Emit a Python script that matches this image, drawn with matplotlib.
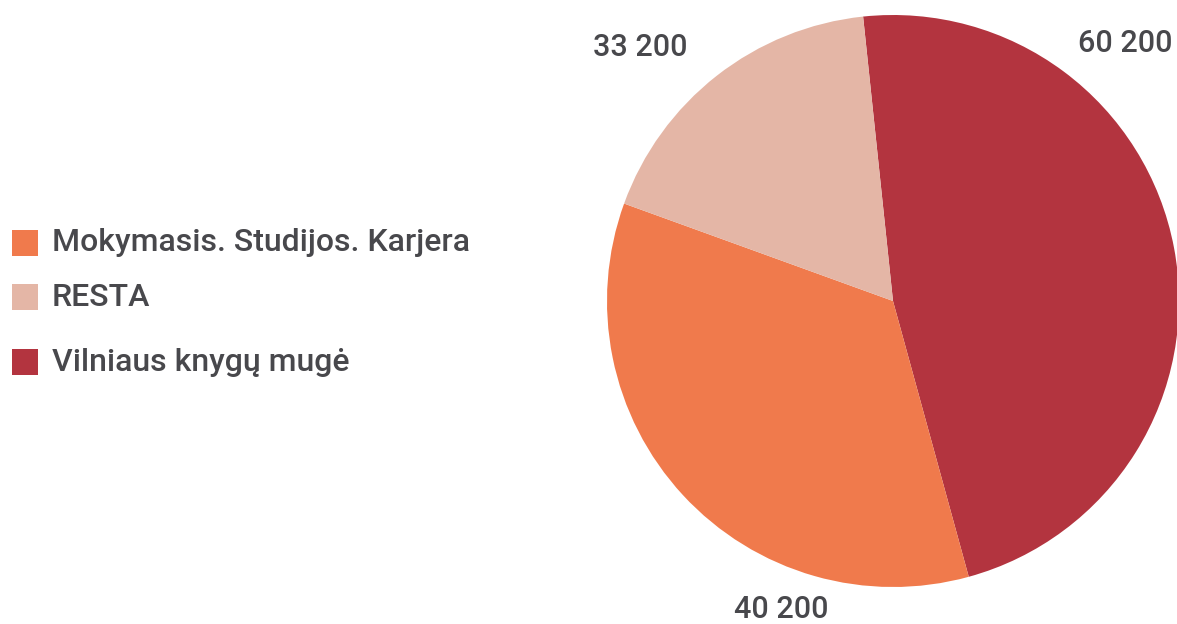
import matplotlib
matplotlib.use("Agg")
import matplotlib.pyplot as plt
from matplotlib.patches import Rectangle

# Data (slice shares as drawn, label values as printed)
categories = ["Vilniaus knygų mugė", "Mokymasis. Studijos. Karjera", "RESTA"]
shares = [47.4, 34.8, 17.8]
value_labels = ["60 200", "40 200", "33 200"]
colors = ["#B3343F", "#F07A4C", "#E4B6A6"]
legend_order = ["Mokymasis. Studijos. Karjera", "RESTA", "Vilniaus knygų mugė"]

plt.rcParams['font.family'] = ['Roboto', 'DejaVu Sans']
W, H = 1177, 624
fig = plt.figure(figsize=(W / 100, H / 100), dpi=100)
fig.patch.set_facecolor("white")

cx, cy, r = 893, 301, 286
ax = fig.add_axes([(cx - r) / W, (H - cy - r) / H, 2 * r / W, 2 * r / H])
wedges, _ = ax.pie(shares, colors=colors, startangle=96, counterclock=False,
                   radius=1, wedgeprops=dict(linewidth=0))
for w in wedges:
    w.set_clip_on(False)
ax.set_xlim(-1, 1)
ax.set_ylim(-1, 1)
ax.axis("off")

txt_color = "#48484C"
label_pos = {"60 200": (1125, 43), "40 200": (781, 609), "33 200": (640, 47)}
for lab in value_labels:
    x, y = label_pos[lab]
    fig.text(x / W, 1 - y / H, lab, ha="center", va="center",
             fontsize=22, color=txt_color, fontweight="medium")

# Legend drawn manually (uneven row spacing in the reference)
row_y = [243, 297, 362]
for name, y in zip(legend_order, row_y):
    c = colors[categories.index(name)]
    fig.patches.append(Rectangle((12 / W, 1 - (y + 13) / H), 26 / W, 26 / H,
                                 transform=fig.transFigure, facecolor=c,
                                 edgecolor="none"))
    fig.text(52 / W, 1 - y / H, name, ha="left", va="center",
             fontsize=23, color=txt_color, fontweight="medium")

fig.savefig("out.png", dpi=100, facecolor="white")
